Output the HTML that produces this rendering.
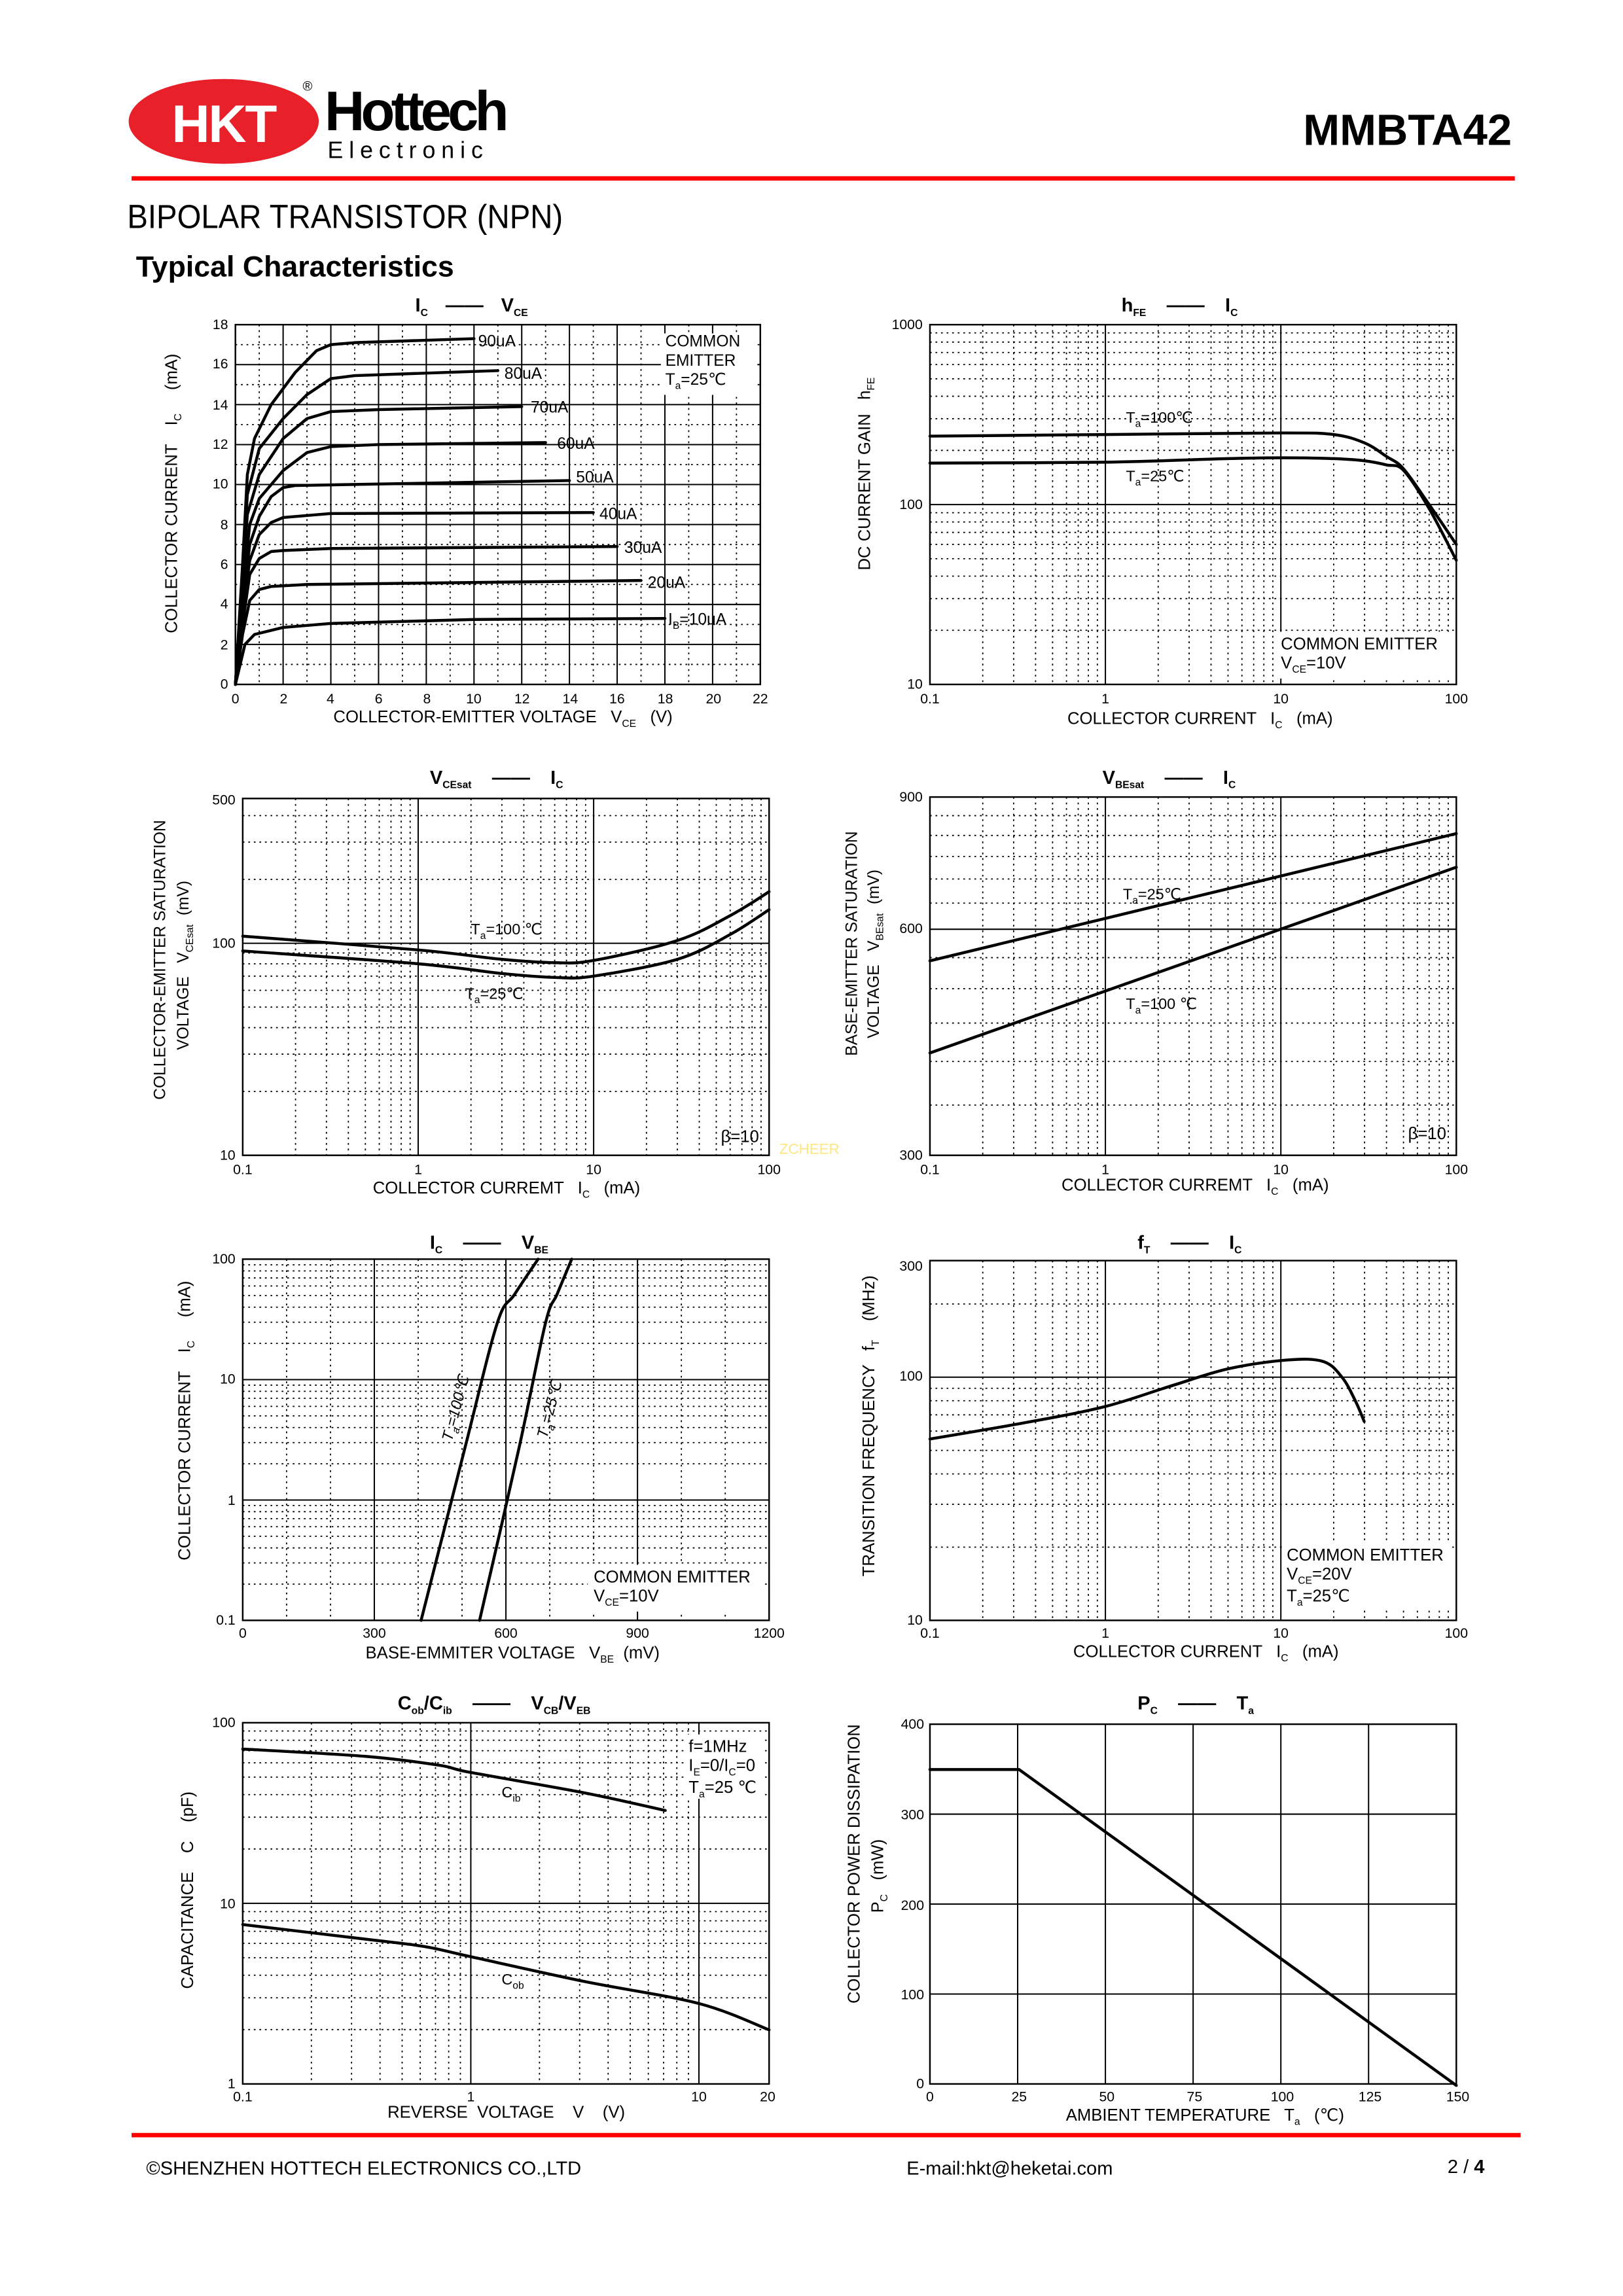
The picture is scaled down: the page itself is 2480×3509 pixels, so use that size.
<!DOCTYPE html>
<html><head><meta charset="utf-8"><style>
html,body{margin:0;padding:0;background:#fff}
svg{display:block}
text{font-family:"Liberation Sans",Arial,sans-serif;fill:#000;white-space:pre}
.t{font-size:9.5px}
.a{font-size:11.5px}
.h{font-size:13px;font-weight:bold}
.s{font-size:7px}
.g{stroke:#000;stroke-width:0.9}
.d{stroke:#000;stroke-width:0.8;stroke-dasharray:1.2 2.6}
.f{fill:none;stroke:#000;stroke-width:1.1}
.cv{fill:none;stroke:#000;stroke-width:2;stroke-linejoin:round;stroke-linecap:round}
</style></head><body>
<svg id="s" width="2480" height="3509" viewBox="0 0 1110 1570" preserveAspectRatio="none" xmlns="http://www.w3.org/2000/svg" xml:space="preserve">
<g id="geo"></g>
<ellipse cx="153" cy="83" rx="65" ry="29" fill="#e8202a"/>
<text x="153" y="97" text-anchor="middle" style="font-size:36px;font-weight:bold;fill:#fff;letter-spacing:-1px">HKT</text>
<text x="207" y="62" style="font-size:9px">®</text>
<text x="222" y="89" style="font-size:38px;font-weight:bold;letter-spacing:-2px" textLength="124">Hottech</text>
<text x="224" y="108" style="font-size:16px;letter-spacing:4px">Electronic</text>
<text x="1034" y="99" text-anchor="end" style="font-size:30px;font-weight:bold">MMBTA42</text>
<rect x="90" y="120.5" width="946" height="3" fill="#f00"/>
<text x="87" y="156" style="font-size:23px" textLength="298" lengthAdjust="spacingAndGlyphs">BIPOLAR TRANSISTOR (NPN)</text>
<text x="93" y="189" style="font-size:20px;font-weight:bold">Typical Characteristics</text>
<rect x="90" y="1458.5" width="950" height="3" fill="#f00"/>
<text x="100" y="1487" style="font-size:13px">©SHENZHEN HOTTECH ELECTRONICS CO.,LTD</text>
<text x="620" y="1487" style="font-size:13px">E-mail:hkt@heketai.com</text>
<text x="990" y="1486" style="font-size:13px">2 / <tspan font-weight="bold">4</tspan></text>

<text x="284" y="213" class="h">I<tspan class="s" dy="3">C</tspan><tspan dy="-3" dx="12">——</tspan><tspan dx="12">V</tspan><tspan class="s" dy="3">CE</tspan></text>
<g class="t" text-anchor="end">
<text x="156" y="225">18</text><text x="156" y="252">16</text><text x="156" y="280">14</text><text x="156" y="307">12</text><text x="156" y="334">10</text><text x="156" y="362">8</text><text x="156" y="389">6</text><text x="156" y="416">4</text><text x="156" y="444">2</text><text x="156" y="471">0</text>
</g>
<g class="t" text-anchor="middle">
<text x="161" y="481">0</text><text x="194" y="481">2</text><text x="226" y="481">4</text><text x="259" y="481">6</text><text x="292" y="481">8</text><text x="324" y="481">10</text><text x="357" y="481">12</text><text x="390" y="481">14</text><text x="422" y="481">16</text><text x="455" y="481">18</text><text x="488" y="481">20</text><text x="520" y="481">22</text>
</g>
<text x="228" y="494" class="a">COLLECTOR-EMITTER VOLTAGE   V<tspan class="s" dy="3">CE</tspan><tspan dy="-3">   (V)</tspan></text>
<text transform="translate(121,433) rotate(-90)" class="a">COLLECTOR CURRENT    I<tspan class="s" dy="3">C</tspan><tspan dy="-3">     (mA)</tspan></text>
<g class="a" style="font-size:11px">
<text x="327" y="237">90uA</text><text x="345" y="259">80uA</text><text x="363" y="282">70uA</text><text x="381" y="307">60uA</text><text x="394" y="330">50uA</text><text x="410" y="355">40uA</text><text x="427" y="378">30uA</text><text x="443" y="402">20uA</text><text x="457" y="427">I<tspan class="s" dy="3">B</tspan><tspan dy="-3">=10uA</tspan></text>
<text x="455" y="237">COMMON</text><text x="455" y="250">EMITTER</text><text x="455" y="263">T<tspan class="s" dy="3">a</tspan><tspan dy="-3">=25℃</tspan></text>
</g>

<text x="767" y="213" class="h">h<tspan class="s" dy="3">FE</tspan><tspan dy="-3" dx="14">——</tspan><tspan dx="14">I</tspan><tspan class="s" dy="3">C</tspan></text>
<g class="t" text-anchor="end"><text x="631" y="225">1000</text><text x="631" y="348">100</text><text x="631" y="471">10</text></g>
<g class="t" text-anchor="middle"><text x="636" y="481">0.1</text><text x="756" y="481">1</text><text x="876" y="481">10</text><text x="996" y="481">100</text></g>
<text x="730" y="495" class="a">COLLECTOR CURRENT   I<tspan class="s" dy="3">C</tspan><tspan dy="-3">   (mA)</tspan></text>
<text transform="translate(595,390) rotate(-90)" class="a">DC CURRENT GAIN   h<tspan class="s" dy="3">FE</tspan></text>
<text x="770" y="289" class="a" style="font-size:10.5px">T<tspan class="s" dy="3">a</tspan><tspan dy="-3">=100℃</tspan></text>
<text x="770" y="329" class="a" style="font-size:10.5px">T<tspan class="s" dy="3">a</tspan><tspan dy="-3">=25℃</tspan></text>
<text x="876" y="444" class="a">COMMON EMITTER</text>
<text x="876" y="457" class="a">V<tspan class="s" dy="3">CE</tspan><tspan dy="-3">=10V</tspan></text>

<text x="294" y="536" class="h">V<tspan class="s" dy="3">CEsat</tspan><tspan dy="-3" dx="14">——</tspan><tspan dx="14">I</tspan><tspan class="s" dy="3">C</tspan></text>
<g class="t" text-anchor="end"><text x="161" y="550">500</text><text x="161" y="648">100</text><text x="161" y="793">10</text></g>
<g class="t" text-anchor="middle"><text x="166" y="803">0.1</text><text x="286" y="803">1</text><text x="406" y="803">10</text><text x="526" y="803">100</text></g>
<text x="255" y="816" class="a">COLLECTOR CURREMT   I<tspan class="s" dy="3">C</tspan><tspan dy="-3">   (mA)</tspan></text>
<text transform="translate(113,752) rotate(-90)" class="a" style="font-size:11px">COLLECTOR-EMITTER SATURATION</text>
<text transform="translate(129,718) rotate(-90)" class="a" style="font-size:11px">VOLTAGE   V<tspan class="s" dy="3">CEsat</tspan><tspan dy="-3">  (mV)</tspan></text>
<text x="322" y="639" class="a" style="font-size:10.5px">T<tspan class="s" dy="3">a</tspan><tspan dy="-3">=100 ℃</tspan></text>
<text x="318" y="683" class="a" style="font-size:10.5px">T<tspan class="s" dy="3">a</tspan><tspan dy="-3">=25℃</tspan></text>
<text x="493" y="781" class="a">β=10</text>
<text x="533" y="789" style="font-size:10px;fill:#ffe680">ZCHEER</text>

<text x="754" y="536" class="h">V<tspan class="s" dy="3">BEsat</tspan><tspan dy="-3" dx="14">——</tspan><tspan dx="14">I</tspan><tspan class="s" dy="3">C</tspan></text>
<g class="t" text-anchor="end"><text x="631" y="548">900</text><text x="631" y="638">600</text><text x="631" y="793">300</text></g>
<g class="t" text-anchor="middle"><text x="636" y="803">0.1</text><text x="756" y="803">1</text><text x="876" y="803">10</text><text x="996" y="803">100</text></g>
<text x="726" y="814" class="a">COLLECTOR CURREMT   I<tspan class="s" dy="3">C</tspan><tspan dy="-3">   (mA)</tspan></text>
<text transform="translate(586,722) rotate(-90)" class="a" style="font-size:11px">BASE-EMITTER SATURATION</text>
<text transform="translate(601,710) rotate(-90)" class="a" style="font-size:11px">VOLTAGE   V<tspan class="s" dy="3">BEsat</tspan><tspan dy="-3">  (mV)</tspan></text>
<text x="768" y="615" class="a" style="font-size:10.5px">T<tspan class="s" dy="3">a</tspan><tspan dy="-3">=25℃</tspan></text>
<text x="770" y="690" class="a" style="font-size:10.5px">T<tspan class="s" dy="3">a</tspan><tspan dy="-3">=100 ℃</tspan></text>
<text x="963" y="779" class="a">β=10</text>

<text x="294" y="854" class="h">I<tspan class="s" dy="3">C</tspan><tspan dy="-3" dx="14">——</tspan><tspan dx="14">V</tspan><tspan class="s" dy="3">BE</tspan></text>
<g class="t" text-anchor="end"><text x="161" y="864">100</text><text x="161" y="946">10</text><text x="161" y="1029">1</text><text x="161" y="1111">0.1</text></g>
<g class="t" text-anchor="middle"><text x="166" y="1120">0</text><text x="256" y="1120">300</text><text x="346" y="1120">600</text><text x="436" y="1120">900</text><text x="526" y="1120">1200</text></g>
<text x="250" y="1134" class="a">BASE-EMMITER VOLTAGE   V<tspan class="s" dy="3">BE</tspan><tspan dy="-3">  (mV)</tspan></text>
<text transform="translate(130,1067) rotate(-90)" class="a">COLLECTOR CURRENT    I<tspan class="s" dy="3">C</tspan><tspan dy="-3">     (mA)</tspan></text>
<text transform="translate(309,986) rotate(-75)" class="a" style="font-size:10.5px;font-style:italic">T<tspan class="s" dy="3">a</tspan><tspan dy="-3">=100℃</tspan></text>
<text transform="translate(374,984) rotate(-75)" class="a" style="font-size:10.5px;font-style:italic">T<tspan class="s" dy="3">a</tspan><tspan dy="-3">=25℃</tspan></text>
<text x="406" y="1082" class="a">COMMON EMITTER</text>
<text x="406" y="1095" class="a">V<tspan class="s" dy="3">CE</tspan><tspan dy="-3">=10V</tspan></text>

<text x="778" y="854" class="h">f<tspan class="s" dy="3">T</tspan><tspan dy="-3" dx="14">——</tspan><tspan dx="14">I</tspan><tspan class="s" dy="3">C</tspan></text>
<g class="t" text-anchor="end"><text x="631" y="869">300</text><text x="631" y="944">100</text><text x="631" y="1111">10</text></g>
<g class="t" text-anchor="middle"><text x="636" y="1120">0.1</text><text x="756" y="1120">1</text><text x="876" y="1120">10</text><text x="996" y="1120">100</text></g>
<text x="734" y="1133" class="a">COLLECTOR CURRENT   I<tspan class="s" dy="3">C</tspan><tspan dy="-3">   (mA)</tspan></text>
<text transform="translate(598,1078) rotate(-90)" class="a">TRANSITION FREQUENCY   f<tspan class="s" dy="3">T</tspan><tspan dy="-3">    (MHz)</tspan></text>
<text x="880" y="1067" class="a">COMMON EMITTER</text>
<text x="880" y="1080" class="a">V<tspan class="s" dy="3">CE</tspan><tspan dy="-3">=20V</tspan></text>
<text x="880" y="1095" class="a">T<tspan class="s" dy="3">a</tspan><tspan dy="-3">=25℃</tspan></text>

<text x="272" y="1169" class="h">C<tspan class="s" dy="3">ob</tspan><tspan dy="-3">/C</tspan><tspan class="s" dy="3">ib</tspan><tspan dy="-3" dx="14">——</tspan><tspan dx="14">V</tspan><tspan class="s" dy="3">CB</tspan><tspan dy="-3">/V</tspan><tspan class="s" dy="3">EB</tspan></text>
<g class="t" text-anchor="end"><text x="161" y="1181">100</text><text x="161" y="1305">10</text><text x="161" y="1428">1</text></g>
<g class="t" text-anchor="middle"><text x="166" y="1437">0.1</text><text x="322" y="1437">1</text><text x="478" y="1437">10</text><text x="525" y="1437">20</text></g>
<text x="265" y="1448" class="a">REVERSE  VOLTAGE    V    (V)</text>
<text transform="translate(132,1360) rotate(-90)" class="a">CAPACITANCE    C    (pF)</text>
<text x="471" y="1198" class="a">f=1MHz</text>
<text x="471" y="1211" class="a">I<tspan class="s" dy="3">E</tspan><tspan dy="-3">=0/I</tspan><tspan class="s" dy="3">C</tspan><tspan dy="-3">=0</tspan></text>
<text x="471" y="1226" class="a">T<tspan class="s" dy="3">a</tspan><tspan dy="-3">=25 ℃</tspan></text>
<text x="343" y="1229" class="a" style="font-size:10.5px">C<tspan class="s" dy="3">ib</tspan></text>
<text x="343" y="1357" class="a" style="font-size:10.5px">C<tspan class="s" dy="3">ob</tspan></text>

<text x="778" y="1169" class="h">P<tspan class="s" dy="3">C</tspan><tspan dy="-3" dx="14">——</tspan><tspan dx="14">T</tspan><tspan class="s" dy="3">a</tspan></text>
<g class="t" text-anchor="end"><text x="632" y="1182">400</text><text x="632" y="1244">300</text><text x="632" y="1306">200</text><text x="632" y="1367">100</text><text x="632" y="1428">0</text></g>
<g class="t" text-anchor="middle"><text x="636" y="1437">0</text><text x="697" y="1437">25</text><text x="757" y="1437">50</text><text x="817" y="1437">75</text><text x="877" y="1437">100</text><text x="937" y="1437">125</text><text x="997" y="1437">150</text></g>
<text x="729" y="1450" class="a">AMBIENT TEMPERATURE   T<tspan class="s" dy="3">a</tspan><tspan dy="-3">   (℃)</tspan></text>
<text transform="translate(588,1370) rotate(-90)" class="a">COLLECTOR POWER DISSIPATION</text>
<text transform="translate(604,1308) rotate(-90)" class="a">P<tspan class="s" dy="3">C</tspan><tspan dy="-3">   (mW)</tspan></text>
</svg>
<script>
var S=[];
function L(a,b,c,d,k){S.push('<line x1="'+a+'" y1="'+b+'" x2="'+c+'" y2="'+d+'" class="'+k+'"/>');}
function R(x0,y0,x1,y1){S.push('<rect x="'+x0+'" y="'+y0+'" width="'+(x1-x0)+'" height="'+(y1-y0)+'" class="f"/>');}
function C(p){var d='M'+p[0][0]+','+p[0][1];for(var i=0;i<p.length-1;i++){var p0=p[i-1]||p[i],p1=p[i],p2=p[i+1],p3=p[i+2]||p2;
d+=' C'+(p1[0]+(p2[0]-p0[0])/6)+','+(p1[1]+(p2[1]-p0[1])/6)+' '+(p2[0]-(p3[0]-p1[0])/6)+','+(p2[1]-(p3[1]-p1[1])/6)+' '+p2[0]+','+p2[1];}
S.push('<path d="'+d+'" class="cv"/>');}
function logv(lo,hi){var r=[];for(var e=-2;e<4;e++)for(var m=1;m<10;m++){var v=m*Math.pow(10,e);if(v>lo*1.0001&&v<hi*0.9999)r.push([v,m==1]);}return r;}
var lg=Math.log10;
(function(){var X=function(v){return 161+v*359/22},Y=function(i){return 468-i*246/18};
for(var v=1;v<22;v++)L(X(v),222,X(v),468,v%2?'d':'g');
for(var i=1;i<18;i++)L(161,Y(i),520,Y(i),i%2?'d':'g');R(161,222,520,468);
var cs=[[[0,0],[0.3,6],[0.5,10.5],[0.8,12.3],[1.5,14],[2.5,15.6],[3.4,16.7],[4,17],[5,17.1],[10,17.3]],
[[0,0],[0.3,5.5],[0.5,9.5],[1,11.8],[2,13.3],[3,14.5],[4,15.3],[5,15.45],[11,15.7]],
[[0,0],[0.3,5],[0.5,8.5],[1,10.5],[2,12.3],[3,13.3],[4,13.65],[6,13.75],[12,13.9]],
[[0,0],[0.3,4.5],[0.6,8],[1,9.3],[2,10.7],[3,11.6],[4,11.9],[6,12],[13,12.1]],
[[0,0],[0.3,4],[0.6,7],[1,8.4],[1.5,9.4],[2,9.85],[2.5,9.95],[14,10.2]],
[[0,0],[0.3,3.5],[0.6,6.2],[1,7.5],[1.5,8.1],[2,8.35],[4,8.55],[15,8.6]],
[[0,0],[0.3,3],[0.6,5.5],[1,6.3],[1.5,6.65],[2,6.7],[4,6.8],[16,6.9]],
[[0,0],[0.3,2.5],[0.6,4.2],[1,4.75],[1.5,4.9],[3,5],[17,5.2]],
[[0,0],[0.4,2],[0.8,2.5],[2,2.85],[4,3.05],[10,3.25],[18,3.3]]];
cs.forEach(function(c){S.push('<polyline class="cv" points="'+c.map(function(p){return X(p[0])+','+Y(p[1])}).join(' ')+'"/>');});
S.push('<rect x="452" y="228" width="66" height="42" fill="#fff"/>');})();
function logX(x0,dec){return function(v){return x0+dec*lg(v/0.1)}}
(function(){var X=logX(636,120),Y=function(h){return 468-123*lg(h/10)};
logv(0.1,100).forEach(function(a){L(X(a[0]),222,X(a[0]),468,a[1]?'g':'d')});
logv(10,1000).forEach(function(a){L(636,Y(a[0]),996,Y(a[0]),a[1]?'g':'d')});R(636,222,996,468);
S.push('<rect x="872" y="432" width="120" height="32" fill="#fff"/>');
C([[0.1,240],[1,245],[10,250],[20,245],[30,220],[40,185],[50,158],[70,100],[100,60]].map(function(p){return[X(p[0]),Y(p[1])]}));
C([[0.1,170],[1,172],[5,180],[10,182],[20,180],[30,175],[40,166],[50,155],[70,95],[100,49]].map(function(p){return[X(p[0]),Y(p[1])]}));})();
(function(){var X=logX(166,120),Y=function(h){return 790-145*lg(h/10)};
logv(0.1,100).forEach(function(a){L(X(a[0]),546,X(a[0]),790,a[1]?'g':'d')});
logv(10,500).forEach(function(a){L(166,Y(a[0]),526,Y(a[0]),a[1]?'g':'d')});R(166,546,526,790);
C([[0.1,108],[1,93],[3,84],[6,81],[10,83],[30,103],[60,135],[100,175]].map(function(p){return[X(p[0]),Y(p[1])]}));
C([[0.1,92],[1,80],[3,72],[6,69],[10,70],[30,84],[60,110],[100,144]].map(function(p){return[X(p[0]),Y(p[1])]}));})();
(function(){var X=logX(636,120),Y=function(h){return 790-513.5*lg(h/300)};
logv(0.1,100).forEach(function(a){L(X(a[0]),545,X(a[0]),790,a[1]?'g':'d')});
for(var v=350;v<900;v+=50)L(636,Y(v),996,Y(v),v==600?'g':'d');R(636,545,996,790);
L(636,657,996,570,'cv');L(636,720,996,593,'cv');})();
(function(){var Y=function(h){return 1108-82.3*lg(h/0.1)};
for(var v=100;v<1200;v+=100)L(166+v*0.3,861,166+v*0.3,1108,v%300?'d':'g');
logv(0.1,100).forEach(function(a){L(166,Y(a[0]),526,Y(a[0]),a[1]?'g':'d')});R(166,861,526,1108);
S.push('<rect x="402" y="1070" width="120" height="32" fill="#fff"/>');
C([[288,1108],[318,990],[340,905],[352,885],[368,861]]);C([[328,1108],[355,990],[373,905],[381,885],[391,861]]);})();
(function(){var X=logX(636,120),Y=function(h){return 1108-166.3*lg(h/10)};
logv(0.1,100).forEach(function(a){L(X(a[0]),862,X(a[0]),1108,a[1]?'g':'d')});
logv(10,300).forEach(function(a){L(636,Y(a[0]),996,Y(a[0]),a[1]?'g':'d')});R(636,862,996,1108);
S.push('<rect x="878" y="1055" width="114" height="46" fill="#fff"/>');
C([[636,984],[700,973],[755,962],[800,948],[840,936],[880,930],[905,931],[918,942],[927,958],[933,972]]);})();
(function(){var X=logX(166,156),Y=function(h){return 1425-123.5*lg(h)};
logv(0.1,20).forEach(function(a){L(X(a[0]),1178,X(a[0]),1425,a[1]?'g':'d')});
logv(1,100).forEach(function(a){L(166,Y(a[0]),526,Y(a[0]),a[1]?'g':'d')});R(166,1178,526,1425);
S.push('<rect x="468" y="1186" width="55" height="44" fill="#fff"/>');
C([[166,1196],[250,1201],[300,1207],[322,1212],[400,1226],[455,1238]]);
C([[166,1316],[250,1326],[290,1331],[322,1338],[400,1355],[478,1370],[526,1388]]);})();
(function(){for(var v=25;v<150;v+=25)L(636+v*2.4,1179,636+v*2.4,1425,'g');
for(var p=100;p<400;p+=100)L(636,1425-p*0.615,996,1425-p*0.615,'g');R(636,1179,996,1425);
S.push('<polyline class="cv" points="636,1210 697,1210 996,1426"/>');})();
document.getElementById('geo').innerHTML=S.join('');
</script>
</body></html>
